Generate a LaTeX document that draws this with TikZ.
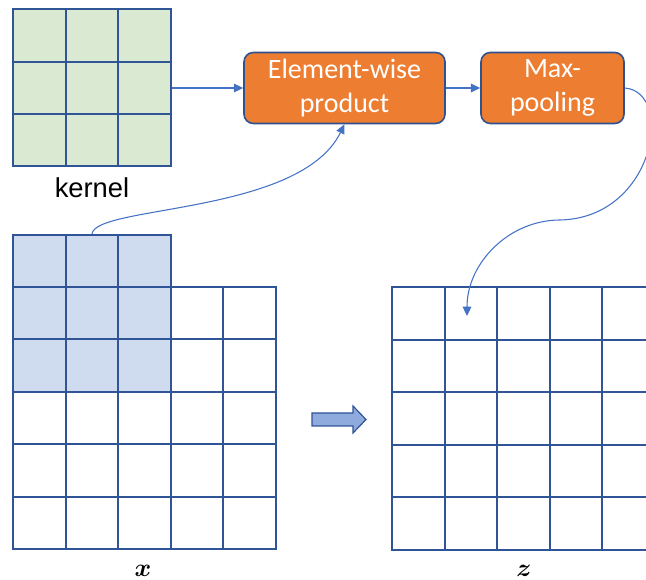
\documentclass[tikz,border=0pt]{standalone}
\usepackage{fontspec}
\setmainfont{Liberation Sans}
\newfontfamily\boxfont{Carlito}
\usetikzlibrary{arrows.meta}
\definecolor{gridblue}{RGB}{47,85,151}
\definecolor{linkblue}{RGB}{68,114,196}
\definecolor{kergreen}{RGB}{218,233,210}
\definecolor{winblue}{RGB}{207,219,238}
\definecolor{boxorange}{RGB}{237,125,49}
\definecolor{boxline}{RGB}{47,82,143}
\definecolor{bigarrow}{RGB}{143,170,220}

\begin{document}
\begin{tikzpicture}[x=0.75pt,y=-0.75pt,
    cell/.style={draw=gridblue,line width=1.5pt},
    gline/.style={draw=gridblue,line width=1.5pt,line cap=rect},
    op/.style={draw=boxline,line width=1.2pt,fill=boxorange,rounded corners=7pt,
      text=white,align=center,inner sep=0pt,
      font=\boxfont\fontsize{21}{25}\selectfont},
    link/.style={draw=linkblue,line width=0.8pt,-{Triangle[length=7pt,width=6.5pt]}}]
      \useasboundingbox (0,0) rectangle (646,580);
      \clip (0,0) rectangle (646,580);
      \node[cell,fill=kergreen,minimum width=118.5pt,minimum height=117.75pt] (k) at (92,88) {};
      \foreach \i in {1,2} {
        \draw[gline] ({13+52.67*\i},9.5) -- ({13+52.67*\i},166.5);
        \draw[gline] (13,{9.5+52.33*\i}) -- (171,{9.5+52.33*\i});
      }
      \node[font=\fontsize{20.5}{24}\selectfont] (kl) at (92,188) {kernel};
      \node[op,minimum width=150.75pt,minimum height=53.25pt] (e) at (344.5,88) {Element-wise\\product};
      \node[op,minimum width=107.25pt,minimum height=53.25pt] (m) at (552.5,88) {Max-\\pooling};
      \node[cell,fill=winblue,minimum width=118.5pt,minimum height=117.75pt] (w) at (92,313.5) {};
      \foreach \i in {1,2}
        \draw[gline] ({13+52.67*\i},235) -- ({13+52.67*\i},287);
      \foreach \i in {0,...,5} {
        \draw[gline] ({13+52.6*\i},287) -- ({13+52.6*\i},549);
        \draw[gline] (13,{287+52.4*\i}) -- (276,{287+52.4*\i});
        \draw[gline] ({392+52.6*\i},287) -- ({392+52.6*\i},550);
        \draw[gline] (392,{287+52.6*\i}) -- (655,{287+52.6*\i});
      }
      \node[scale=1.9,font=\boldmath] (xl) at (143,571) {$x$};
      \node[scale=1.9,font=\boldmath] (zl) at (524,571) {$z$};
      \coordinate (t) at (467,316);
      \draw[draw=gridblue,fill=bigarrow,line width=0.9pt] (312,413) -- (353,413) -- (353,406)
        -- (366,419.5) -- (353,433) -- (353,426) -- (312,426) -- cycle;
      \draw[link] (k.east) -- (e.west);
      \draw[link] (e.east) -- (m.west);
      \draw[link] (w.north) .. controls (95,205) and (300,215) .. (e.south);
      \draw[link] (m.east) .. controls (675,92) and (655,218) .. (560,220)
        .. controls (509,220) and (467,263) .. (t);
\end{tikzpicture}
\end{document}
